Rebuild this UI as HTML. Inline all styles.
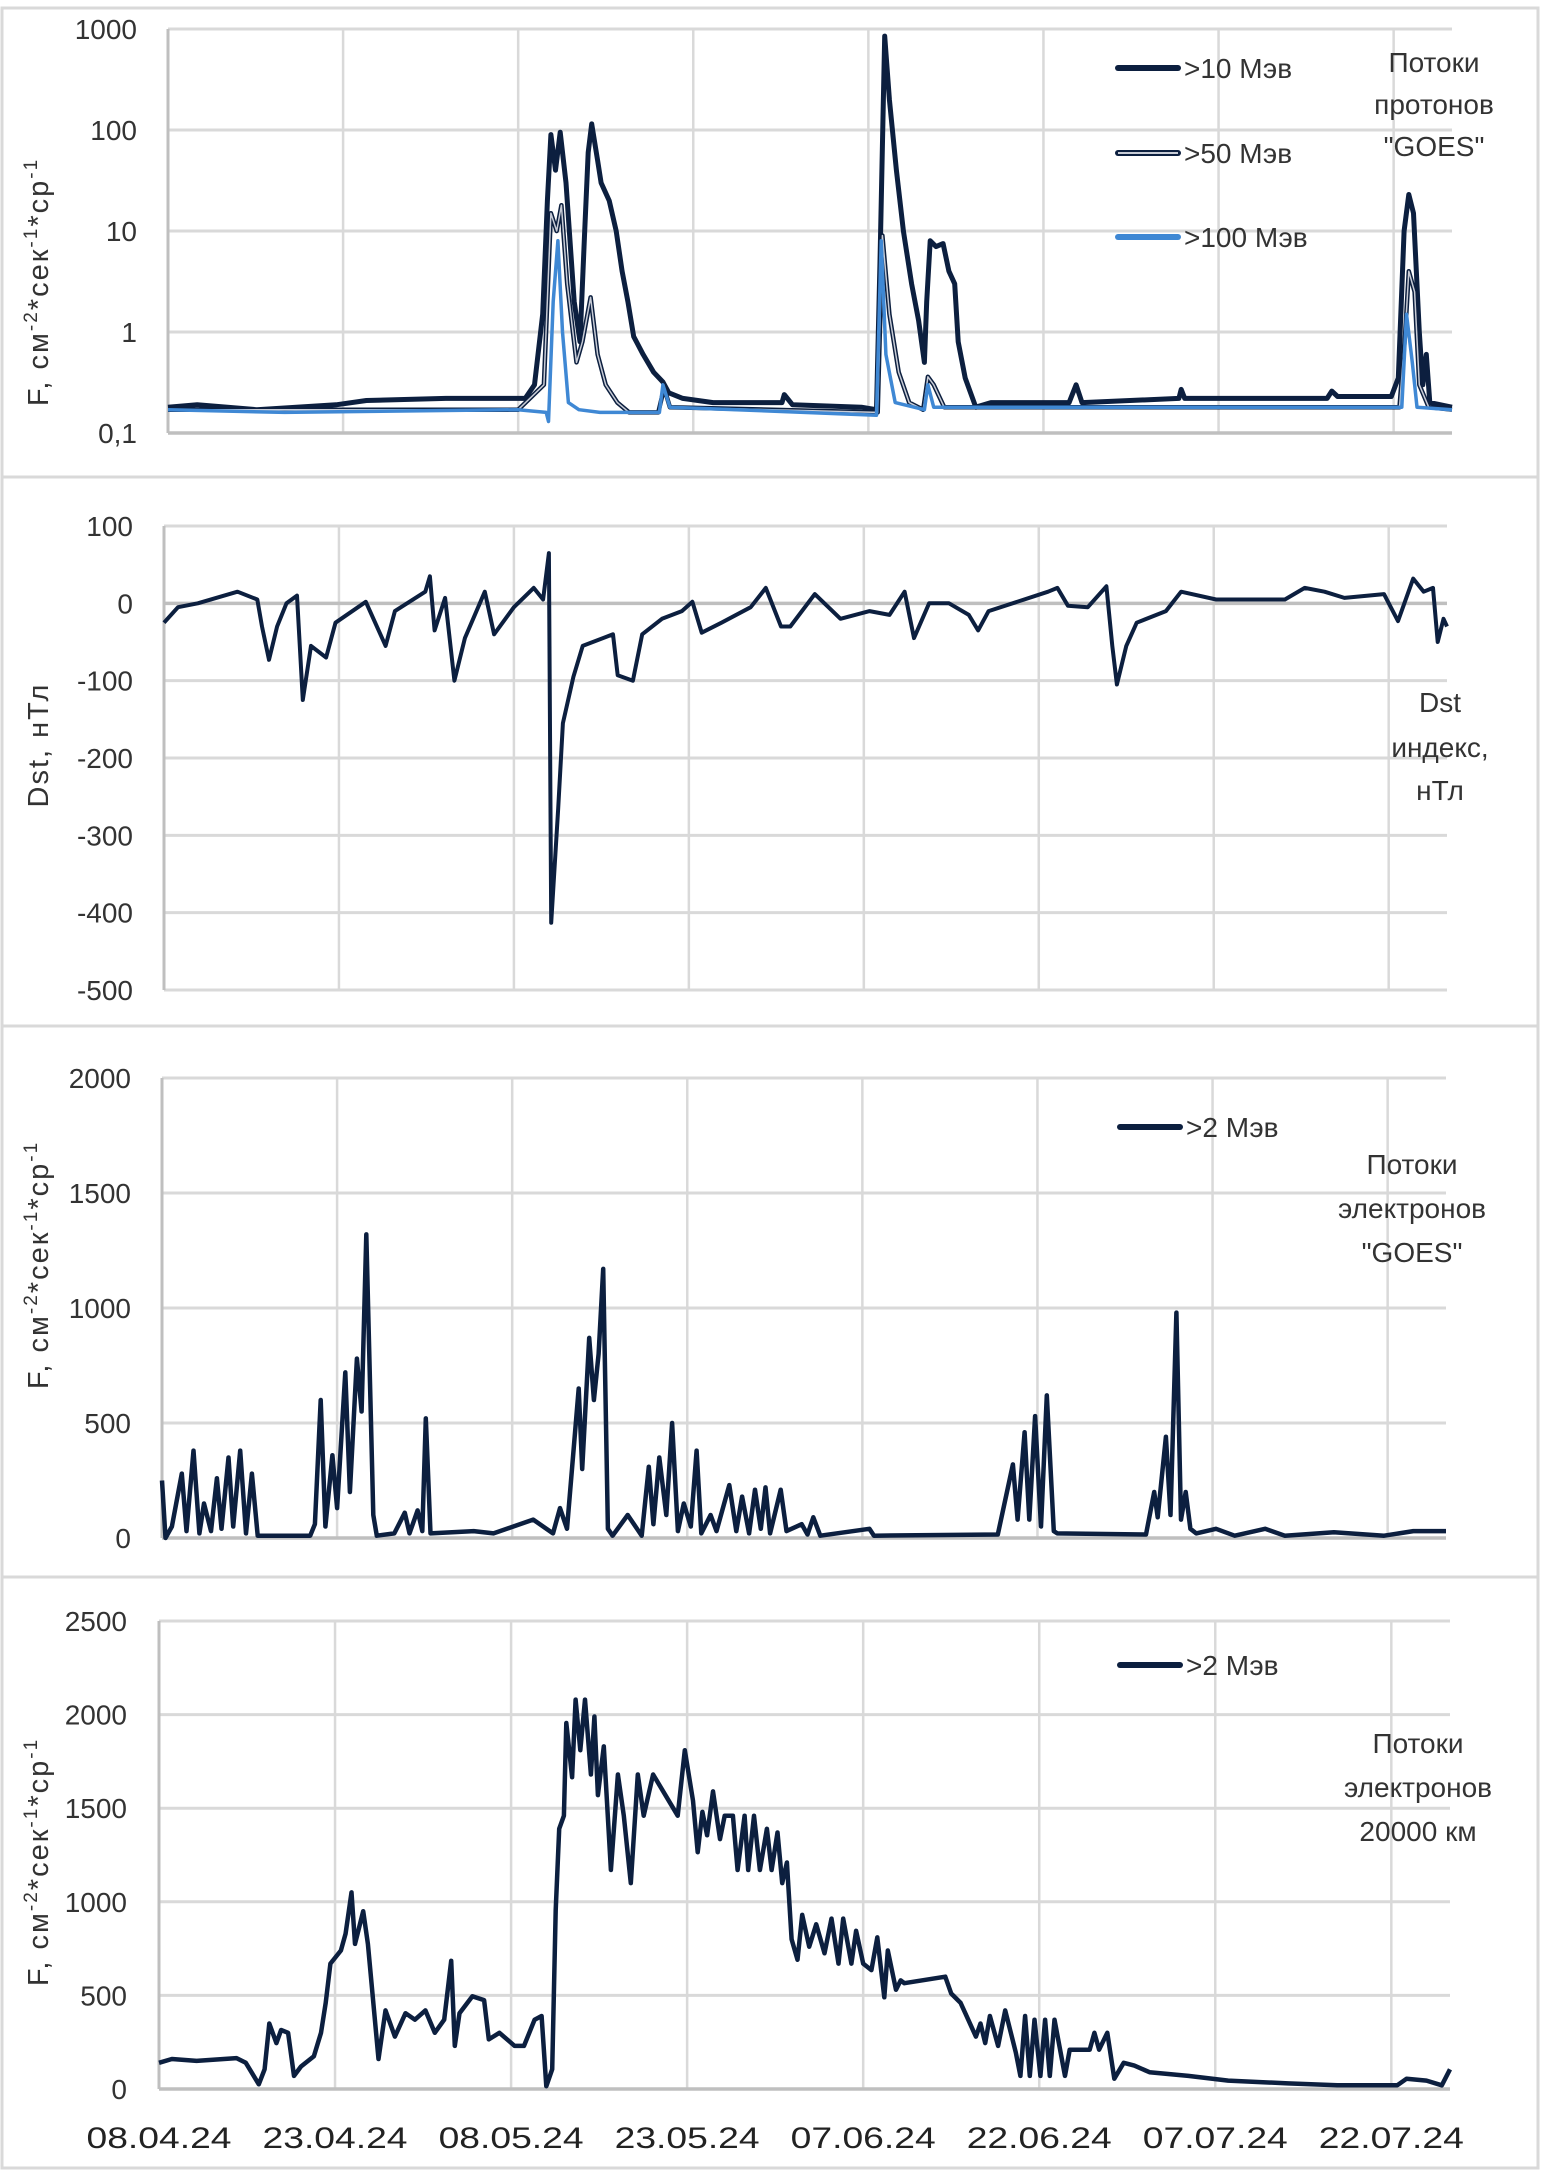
<!DOCTYPE html>
<html><head><meta charset="utf-8">
<style>
html,body{margin:0;padding:0;background:#fff;}
svg{display:block;font-family:"Liberation Sans","DejaVu Sans",sans-serif;}
</style></head>
<body>
<svg id="chart" width="1547" height="2172" viewBox="0 0 1547 2172" xmlns="http://www.w3.org/2000/svg">
<rect x="0" y="0" width="1547" height="2172" fill="#fff"/>
<!-- panel borders -->
<rect x="2" y="8" width="1536" height="469" fill="none" stroke="#d9d9d9" stroke-width="3"/>
<rect x="2" y="477" width="1536" height="549" fill="none" stroke="#d9d9d9" stroke-width="3"/>
<rect x="2" y="1026" width="1536" height="551" fill="none" stroke="#d9d9d9" stroke-width="3"/>
<rect x="2" y="1577" width="1536" height="591" fill="none" stroke="#d9d9d9" stroke-width="3"/>
<g id="g"></g>
</svg>
<script>
// ---------- data ----------
const dateLabels = ["08.04.24","23.04.24","08.05.24","23.05.24","07.06.24","22.06.24","07.07.24","22.07.24"];
const p10Days = [0,2.5,7.6,14.4,17.0,23.8,30.6,31.4,32.1,32.5,32.8,33.2,33.6,34.1,34.8,35.3,35.7,36.0,36.3,36.8,37.1,37.8,38.4,38.9,39.4,39.9,40.7,41.6,42.4,42.9,44.1,46.7,52.6,52.8,53.5,59.4,60.7,61.0,61.4,61.8,62.4,63.0,63.7,64.3,64.8,65.0,65.3,65.8,66.4,66.9,67.4,67.7,68.3,69.2,70.5,77.2,77.8,78.3,86.6,86.8,87.1,99.3,99.7,100.2,104.8,105.4,105.9,106.3,106.7,107.2,107.5,107.8,108.1,110];
const p10Vals = [0.18,0.19,0.17,0.19,0.21,0.22,0.22,0.3,1.5,20,90,40,95,30,2,0.8,10,60,115,50,30,20,10,4,2,0.9,0.6,0.4,0.32,0.25,0.22,0.2,0.2,0.24,0.19,0.18,0.17,5,850,200,40,10,3,1.3,0.5,2,8,7,7.5,4,3,0.8,0.35,0.18,0.2,0.2,0.3,0.2,0.22,0.27,0.22,0.22,0.26,0.23,0.23,0.35,10,23,15,1,0.3,0.6,0.2,0.18];
const p50Days = [0,30,32.2,32.8,33.3,33.7,34.2,35.0,35.5,36.2,36.8,37.5,38.5,39.5,42,42.5,43,60.8,61.2,61.8,62.6,63.5,64.7,65.1,65.6,66.5,105.5,106.0,106.3,106.8,107.2,108,110];
const p50Vals = [0.17,0.17,0.3,15,10,18,3,0.5,0.8,2.2,0.6,0.3,0.2,0.16,0.16,0.28,0.18,0.16,9,1.5,0.4,0.2,0.17,0.36,0.3,0.18,0.18,1,4,2.5,0.3,0.18,0.17];
const p100Days = [0,10,30,32.4,32.6,33.0,33.4,33.8,34.3,35.2,37,42.1,42.4,43,60.7,61.1,61.5,62.3,64.8,65.1,65.6,105.7,106.1,106.6,107,110];
const p100Vals = [0.17,0.16,0.17,0.16,0.13,2,8,1,0.2,0.17,0.16,0.16,0.3,0.18,0.15,8,0.6,0.2,0.17,0.3,0.18,0.18,1.5,0.5,0.18,0.17];
const dstDays = [0,1.2,2.9,6.3,8.0,8.4,9.0,9.7,10.5,11.4,11.9,12.6,13.9,14.7,17.3,19.0,19.8,22.4,22.8,23.2,24.1,24.9,25.8,27.5,28.3,30.0,31.7,32.5,33.0,33.2,33.8,34.2,35.1,35.9,38.5,38.9,40.2,41.0,42.7,44.4,45.3,46.1,47.8,50.3,51.6,52.9,53.7,55.8,58.0,60.5,62.2,63.5,64.3,65.6,67.3,69.0,69.8,70.7,75.8,76.6,77.5,79.2,80.8,81.3,81.7,82.5,83.4,85.9,87.2,90.2,96.1,97.8,99.5,101.2,104.6,105.8,107.1,108.0,108.8,109.2,109.7,110];
const dstVals = [-25,-5,0,15,5,-30,-73,-30,0,10,-125,-55,-70,-25,2,-55,-10,15,35,-35,7,-100,-45,15,-40,-5,20,5,65,-413,-265,-155,-95,-55,-40,-93,-100,-40,-20,-10,2,-38,-25,-5,20,-30,-30,12,-20,-10,-15,15,-45,0,0,-15,-35,-10,15,20,-3,-5,22,-55,-105,-55,-25,-10,15,5,5,20,15,7,12,-23,32,15,20,-50,-20,-30];
const egDays = [0,0.3,0.85,1.7,2.1,2.7,3.2,3.6,4.2,4.7,5.1,5.7,6.1,6.7,7.2,7.7,8.2,12.7,13.1,13.6,14.0,14.6,15.0,15.7,16.1,16.7,17.1,17.5,18.1,18.4,19.9,20.8,21.2,21.9,22.3,22.6,23.0,26.7,28.4,31.8,33.5,34.1,34.7,35.7,36.0,36.6,37.0,37.4,37.8,38.2,38.6,39.9,41.1,41.7,42.1,42.6,43.2,43.7,44.2,44.7,45.3,45.8,46.2,47.0,47.5,48.6,49.2,49.7,50.3,50.8,51.3,51.7,52.1,53.0,53.5,54.8,55.3,55.8,56.4,60.6,61.0,71.6,72.9,73.3,73.9,74.3,74.8,75.3,75.8,76.4,76.7,84.3,85.0,85.3,86.0,86.4,86.9,87.3,87.7,88.1,88.6,90.3,91.9,94.5,96.2,100.4,104.7,107.2,110];
const egVals = [250,0,50,280,30,380,20,150,30,260,40,350,50,380,20,280,10,10,60,600,50,360,130,720,200,780,550,1320,100,10,20,110,20,120,30,520,20,30,20,80,20,130,40,650,300,870,600,800,1170,40,10,100,10,310,60,350,100,500,30,150,50,380,20,100,30,230,30,180,20,210,40,220,20,210,30,60,15,90,10,40,10,15,320,80,460,80,530,50,620,30,20,15,200,90,440,100,980,80,200,40,20,40,10,40,10,25,10,30,30];
const e2Days = [0,1.1,3.2,6.6,7.4,8.5,9.0,9.4,10.0,10.4,11.0,11.5,12.1,13.2,13.8,14.2,14.6,15.5,15.9,16.4,16.7,17.4,17.8,18.7,19.3,20.1,21.0,21.8,22.7,23.5,24.3,24.9,25.2,25.6,26.7,27.7,28.1,29.0,30.3,31.1,32.0,32.6,33.0,33.5,33.8,34.1,34.5,34.7,35.2,35.5,35.9,36.3,36.8,37.1,37.4,37.9,38.5,39.1,39.6,40.2,40.8,41.3,42.1,44.2,44.8,45.5,45.9,46.3,46.7,47.2,47.8,48.2,48.9,49.3,49.9,50.2,50.7,51.2,51.8,52.2,52.7,53.1,53.5,53.9,54.4,54.8,55.4,56.0,56.7,57.3,57.9,58.3,59.0,59.4,60.0,60.7,61.2,61.8,62.1,62.8,63.2,63.5,67.0,67.5,68.3,68.7,69.6,70.0,70.4,70.8,71.5,72.1,73.0,73.4,73.8,74.2,74.6,75.1,75.5,75.9,76.3,77.2,77.6,79.3,79.7,80.1,80.8,81.4,82.2,83.1,84.4,87.7,91.1,96.2,100.4,105.5,106.3,108.0,109.3,110];
const e2Vals = [140,160,150,165,140,25,105,350,245,315,300,70,120,175,300,460,670,740,830,1050,775,950,775,160,420,280,405,370,420,300,370,685,230,405,495,475,265,300,230,230,370,390,15,105,955,1390,1460,1955,1665,2080,1810,2080,1680,1990,1570,1830,1170,1680,1460,1100,1680,1460,1680,1460,1810,1540,1265,1480,1355,1590,1335,1460,1460,1170,1460,1170,1460,1170,1390,1170,1370,1100,1210,800,690,930,760,880,725,910,670,910,670,845,670,635,810,490,740,530,580,565,600,510,460,405,280,350,245,390,230,420,195,70,390,70,370,70,370,70,370,70,210,210,300,210,300,55,140,125,90,70,45,30,20,20,55,45,20,105];
const logTicks = [1000,100,10,1,0.1];
const logTickLabels = ["1000","100","10","1","0,1"];
const dstTicks = [100,0,-100,-200,-300,-400,-500];
const egTicks = [2000,1500,1000,500,0];
const e2Ticks = [2500,2000,1500,1000,500,0];

// ---------- rendering ----------
const NS="http://www.w3.org/2000/svg";
const G=document.getElementById('g');
function mk(tag,attrs,parent){const e=document.createElementNS(NS,tag);for(const k in attrs)e.setAttribute(k,attrs[k]);(parent||G).appendChild(e);return e;}
const NAVY="#0c1f3f", BLUE="#3f88d4";

function panel(cfg){
  const sx=d=>cfg.x0+(cfg.x1-cfg.x0)*d/110;
  const sy=cfg.sy;
  // vertical grid
  for(let i=1;i<8;i++){
    const l=mk('line',{x1:sx(i*15),x2:sx(i*15),y1:cfg.yTop,y2:cfg.yBot,stroke:"#d9d9d9","stroke-width":2.5});
    
    
  }
  cfg.ticks.forEach((t,i)=>{
    const y=sy(t);
    const dark=(t===cfg.base);
    const l=mk('line',{x1:cfg.x0,x2:cfg.x1,y1:y,y2:y,stroke:dark?"#bfbfbf":"#d9d9d9","stroke-width":dark?3.5:3});
    
    
    const tx=mk('text',{x:cfg.tickX,y:y+10,"text-anchor":"end","font-size":28,fill:"#333"});
    tx.textContent=cfg.tickLabels?cfg.tickLabels[i]:String(t);
    
    
  });
  const ax=mk('line',{x1:cfg.x0,x2:cfg.x0,y1:cfg.yTop,y2:cfg.yBot,stroke:"#bfbfbf","stroke-width":3});
  
  
  cfg.series.forEach(s=>{
    let d="";
    s.days.forEach((dd,i)=>{d+=(i?"L":"M")+sx(dd).toFixed(1)+" "+sy(s.vals[i]).toFixed(1);});
    const p=mk('path',{d:d,fill:"none",stroke:s.color,"stroke-width":s.w,"stroke-linejoin":"round"});
    
    
    if(s.inner){
      const q=mk('path',{d:d,fill:"none",stroke:s.inner,"stroke-width":1.5,"stroke-linejoin":"round"});
      
      
    }
  });
}
function logY(top,bot){return v=>top+(bot-top)*(3-Math.log10(v))/4;}
function linY(vTop,yTopPx,vBot,yBotPx){return v=>yTopPx+(yBotPx-yTopPx)*(vTop-v)/(vTop-vBot);}

panel({x0:168,x1:1452,yTop:29,yBot:433,sy:logY(29,433),ticks:logTicks,tickLabels:logTickLabels,base:0.1,tickX:137,
  series:[{name:'series-10mev',days:p10Days,vals:p10Vals,color:NAVY,w:5},
          {name:'series-50mev',days:p50Days,vals:p50Vals,color:NAVY,w:4.5,inner:"#c8ccd6"},
          {name:'series-100mev',days:p100Days,vals:p100Vals,color:BLUE,w:3.5}]});
// make 1-line darker
panel({x0:164,x1:1447,yTop:526,yBot:990,sy:linY(100,526,-500,990),ticks:dstTicks,base:0,tickX:133,
  series:[{name:'series-dst',days:dstDays,vals:dstVals,color:NAVY,w:4}]});
panel({x0:162,x1:1446,yTop:1078,yBot:1538,sy:linY(2000,1078,0,1538),ticks:egTicks,base:0,tickX:131,
  series:[{name:'series-goes-electrons-2mev',days:egDays,vals:egVals,color:NAVY,w:4.5}]});
panel({x0:159,x1:1450,yTop:1621,yBot:2089,sy:linY(2500,1621,0,2089),ticks:e2Ticks,base:0,tickX:127,
  series:[{name:'series-20000km-electrons-2mev',days:e2Days,vals:e2Vals,color:NAVY,w:4.5}]});
// x labels
dateLabels.forEach((lab,i)=>{
  const x=159+(1450-159)*i*15/110;
  const t=mk('text',{x:x,y:2148,"text-anchor":"middle","font-size":30,fill:"#222",textLength:145,lengthAdjust:"spacingAndGlyphs"});
  t.textContent=lab;
  
  
});
// legends
function legend(x,y,label,color,inner,name){
  const g=mk('g',{});
  
  
  mk('line',{x1:x,x2:x+60,y1:y,y2:y,stroke:color,"stroke-width":6,"stroke-linecap":"round"},g);
  if(inner)mk('line',{x1:x,x2:x+60,y1:y,y2:y,stroke:inner,"stroke-width":2},g);
  const t=mk('text',{x:x+66,y:y+10,"font-size":28,fill:"#333"},g);
  t.textContent=label;
}
legend(1118,68,">10 Мэв",NAVY,null,'legend-10mev');
legend(1118,153,">50 Мэв",NAVY,"#c8ccd6",'legend-50mev');
legend(1118,237,">100 Мэв",BLUE,null,'legend-100mev');
legend(1120,1127,">2 Мэв",NAVY,null,'legend-goes-2mev');
legend(1120,1665,">2 Мэв",NAVY,null,'legend-20000km-2mev');
function block(cx,ys,lines,name){
  const t=mk('text',{"font-size":28,fill:"#333","text-anchor":"middle"});
  
  
  lines.forEach((l,i)=>{const s=mk('tspan',{x:cx,y:ys[i]},t);s.textContent=l;});
}
block(1434,[72,114,156],["Потоки","протонов","\"GOES\""],'protons-panel-title');
block(1440,[712,757,800],["Dst","индекс,","нТл"],'dst-panel-title');
block(1412,[1174,1218,1262],["Потоки","электронов","\"GOES\""],'goes-electrons-panel-title');
block(1418,[1753,1797,1841],["Потоки","электронов","20000 км"],'20000km-electrons-panel-title');
// y titles
function ytitle(cy,name,dst){
  const t=mk('text',{x:0,y:0,"font-size":29,fill:"#333","text-anchor":"middle",transform:`translate(48,${cy}) rotate(-90)`,"letter-spacing":"2"});
  
  
  if(dst){t.textContent="Dst, нТл";return;}
  const parts=[["F, см",0],["-2",1],["*сек",0],["-1",1],["*ср",0],["-1",1]];
  parts.forEach(p=>{const s=mk('tspan',p[1]?{"font-size":19,dy:-11}:{dy:p===parts[0]?0:11},t);s.textContent=p[0];});
}
ytitle(282,'protons-y-axis-title');
ytitle(745,'dst-y-axis-title',true);
ytitle(1265,'goes-electrons-y-axis-title');
ytitle(1862,'20000km-electrons-y-axis-title');
</script>
</body></html>
